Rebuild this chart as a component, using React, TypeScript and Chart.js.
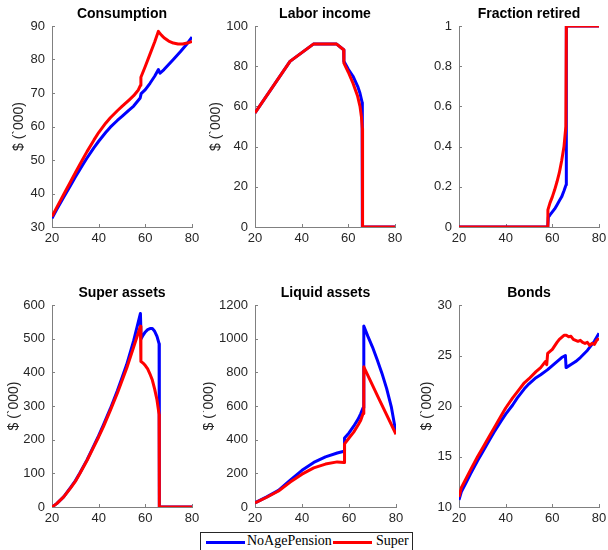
import React, { useEffect, useRef } from "react";
import { Chart, registerables } from "chart.js";

Chart.register(...registerables);

const BLUE = "#0000ff";
const RED = "#ff0000";
const AXIS = "#808080";
const TEXT = "#262626";
const SANS = "'Liberation Sans', Arial, sans-serif";
const SERIF = "'Liberation Serif', 'Times New Roman', serif";

const SERIES_NAMES = ["NoAgePension", "Super"];
const Y_LABEL = "$ (`000)";

// ---- Consumption ----
const consAgeB = [20, 22, 25, 28, 30, 33, 35, 38, 40, 43, 45, 48, 50, 53, 55, 57.8, 58.2, 60, 62, 64, 65.6, 66.3, 68, 70, 72, 75, 78, 80];
const consB = [32.6, 35.2, 38.9, 42.5, 44.9, 48.4, 50.6, 53.7, 55.6, 58.2, 59.8, 61.8, 63, 64.9, 66.1, 68.5, 69.8, 71, 72.9, 75, 77, 75.9, 77, 78.5, 80, 82.3, 84.8, 86.7];
const consAgeR = [20, 22, 25, 28, 30, 33, 35, 38, 40, 43, 45, 48, 50, 53, 55, 57, 57.9, 58.1, 60, 62, 64, 65.6, 66, 67, 68, 70, 72, 74, 76, 78, 80];
const consR = [33.1, 35.8, 39.7, 43.6, 46.2, 50, 52.5, 56, 58.2, 61, 62.6, 64.7, 66, 67.9, 69.2, 70.9, 72.3, 74.7, 78, 81.6, 85.2, 88.4, 88, 87.2, 86.5, 85.5, 84.9, 84.6, 84.6, 84.9, 85.4];

// ---- Labor income ----
const laborAgeB = [20, 35, 45, 55, 58, 58.1, 60, 62, 64, 65, 65.9, 66, 80];
const laborB = [56.7, 82.4, 91, 91, 88.2, 82.5, 78.5, 75, 70, 66.5, 62, 0, 0];
const laborAgeR = [20, 35, 45, 55, 58, 58.1, 60, 62, 64, 65, 65.6, 66, 66.1, 80];
const laborR = [56.7, 82.4, 91, 91, 88.2, 81.5, 77, 71.5, 65, 60, 55, 49, 0, 0];

// ---- Fraction retired ----
const retAgeB = [20, 58, 58.3, 59, 60, 61, 62, 63, 64, 65, 65.9, 66, 80];
const retB = [0, 0, 0.05, 0.06, 0.075, 0.09, 0.11, 0.13, 0.15, 0.18, 0.21, 1, 1];
const retAgeR = [20, 58, 58.1, 59, 60, 61, 62, 63, 64, 65, 65.8, 66, 80];
const retR = [0, 0, 0.085, 0.12, 0.15, 0.185, 0.225, 0.27, 0.33, 0.4, 0.5, 1, 1];

// ---- Super assets ----
const superAgeB = [20, 22, 25, 28, 30, 32, 35, 38, 40, 42, 45, 48, 50, 52, 55, 57.9, 58.2, 59, 60, 61, 62, 63, 64, 65, 65.9, 66, 80];
const superB = [0, 10, 30, 58, 78, 102, 140, 183, 212, 243, 292, 345, 384, 423, 494, 575, 500, 510, 520, 527, 530, 530, 522, 507, 485, 0, 0];
const superAgeR = [20, 22, 25, 28, 30, 32, 35, 38, 40, 42, 45, 48, 50, 52, 55, 57.9, 58.1, 59, 60, 61, 62, 63, 64, 65, 65.9, 66, 80];
const superR = [0, 10, 30, 57, 76, 100, 138, 180, 208, 238, 287, 338, 375, 412, 475, 537, 432, 428, 420, 410, 395, 377, 350, 318, 275, 0, 0];

// ---- Liquid assets ----
const liqAgeB = [20, 25, 30, 35, 40, 45, 50, 55, 57.9, 58.1, 60, 62, 64, 65, 66, 66.3, 68, 70, 72, 74, 76, 78, 80];
const liqB = [25, 60, 99, 160, 218, 265, 298, 321, 331, 410, 440, 480, 525, 555, 590, 1075, 1015, 950, 875, 795, 705, 595, 440];
const liqAgeR = [20, 25, 30, 35, 40, 45, 50, 55, 57.9, 58.1, 60, 62, 64, 65, 66, 66.3, 73, 80];
const liqR = [25, 58, 95, 148, 195, 232, 255, 268, 265, 375, 410, 445, 490, 515, 555, 833, 635, 432];

// ---- Bonds ----
const bondAgeB = [20, 21, 23, 25, 28, 30, 33, 35, 38, 40, 43, 45, 48, 50, 53, 55, 58, 60, 62, 64, 65.6, 65.9, 68, 70, 72, 75, 78, 80];
const bondB = [10.7, 11.5, 12.4, 13.3, 14.6, 15.4, 16.6, 17.4, 18.5, 19.2, 20.1, 20.8, 21.7, 22.2, 22.8, 23.1, 23.6, 24.0, 24.4, 24.8, 25.0, 23.8, 24.1, 24.4, 24.8, 25.5, 26.4, 27.2];
const bondAgeR = [20, 21, 23, 25, 28, 30, 33, 35, 38, 40, 43, 45, 48, 50, 53, 55, 57, 57.6, 58, 60, 62, 63, 64, 65, 66, 67, 68, 69, 70, 71, 72, 73, 74, 75, 76, 77, 78, 79, 80];
const bondR = [11.0, 11.9, 12.8, 13.7, 15.0, 15.8, 17.0, 17.8, 19.0, 19.8, 20.8, 21.4, 22.3, 22.7, 23.4, 23.8, 24.4, 24.1, 25.2, 25.6, 26.3, 26.6, 26.8, 27.0, 27.0, 26.85, 26.9, 26.6, 26.5, 26.4, 26.5, 26.3, 26.2, 26.3, 26.0, 26.2, 26.1, 26.5, 26.7];

const X_MIN = 20;
const X_MAX = 80;
const X_STEP = 20;

const zip = (xs: number[], ys: number[]) => xs.map((x, i) => ({ x, y: ys[i] }));
const fmt = (v: number | string) => String(Math.round(Number(v) * 1000) / 1000);

const innerTicks = {
  id: "innerTicks",
  beforeDatasetsDraw(chart: any) {
    const { ctx, chartArea, scales } = chart;
    ctx.save();
    ctx.strokeStyle = AXIS;
    ctx.lineWidth = 1;
    ctx.beginPath();
    scales.x.ticks.forEach((t: any) => {
      const x = Math.round(scales.x.getPixelForValue(t.value)) + 0.5;
      ctx.moveTo(x, chartArea.bottom);
      ctx.lineTo(x, chartArea.bottom - 3);
    });
    scales.y.ticks.forEach((t: any) => {
      const y = Math.round(scales.y.getPixelForValue(t.value)) + 0.5;
      ctx.moveTo(chartArea.left, y);
      ctx.lineTo(chartArea.left + 3, y);
    });
    ctx.stroke();
    ctx.restore();
  },
};

type PanelProps = {
  title: string;
  xb: number[];
  yb: number[];
  xr: number[];
  yr: number[];
  yMin: number;
  yMax: number;
  yStep: number;
  yLabel: boolean;
  yLabelOffset: number;
  left: number;
  top: number;
  w: number;
  h: number;
};

const LM = 52;
const TM = 26;
const RM = 12;
const BM = 24;

function Panel(p: PanelProps) {
  const ref = useRef<HTMLCanvasElement>(null);
  const cw = p.w + LM + RM;
  const ch = p.h + TM + BM;
  useEffect(() => {
    const ds = (name: string, data: any, color: string, order: number) => ({
      label: name,
      data,
      borderColor: color,
      backgroundColor: color,
      borderWidth: 3,
      pointRadius: 0,
      tension: 0,
      fill: false,
      order,
      borderJoinStyle: "round" as const,
    });
    const chart = new Chart(ref.current as HTMLCanvasElement, {
      type: "line",
      data: {
        datasets: [
          ds(SERIES_NAMES[0], zip(p.xb, p.yb), BLUE, 1),
          ds(SERIES_NAMES[1], zip(p.xr, p.yr), RED, 0),
        ],
      },
      options: {
        animation: false,
        responsive: false,
        events: [],
        layout: { padding: { left: 0, right: RM, top: 0, bottom: 0 } },
        plugins: {
          legend: { display: false },
          tooltip: { enabled: false },
          title: {
            display: true,
            text: p.title,
            fullSize: false,
            color: "#000",
            font: { family: SANS, size: 14, weight: "bold", lineHeight: 1.2 },
            padding: { top: 6, bottom: 3.2 },
          },
        },
        scales: {
          x: {
            type: "linear",
            min: X_MIN,
            max: X_MAX,
            ticks: {
              stepSize: X_STEP,
              color: TEXT,
              font: { family: SANS, size: 13 },
              padding: 4,
              maxRotation: 0,
              autoSkip: false,
              callback: (v: any) => fmt(v),
            },
            grid: { display: true, drawOnChartArea: false, drawTicks: false, color: AXIS },
            border: { display: true, color: AXIS, width: 1 },
            afterFit: (s: any) => {
              s.height = BM;
              s.paddingLeft = 0;
              s.paddingRight = 0;
            },
          },
          y: {
            type: "linear",
            min: p.yMin,
            max: p.yMax,
            ticks: {
              stepSize: p.yStep,
              color: TEXT,
              font: { family: SANS, size: 13 },
              padding: 7,
              autoSkip: false,
              callback: (v: any) => fmt(v),
            },
            grid: { display: true, drawOnChartArea: false, drawTicks: false, color: AXIS },
            border: { display: true, color: AXIS, width: 1 },
            title: {
              display: p.yLabel,
              text: Y_LABEL,
              color: TEXT,
              font: { family: SANS, size: 14, lineHeight: 1 },
              padding: { top: p.yLabelOffset - 7, bottom: 0 },
            },
            afterFit: (s: any) => {
              s.width = LM;
              s.paddingTop = 0;
              s.paddingBottom = 0;
            },
          },
        },
      } as any,
      plugins: [innerTicks],
    });
    return () => chart.destroy();
  }, []);
  return (
    <canvas
      ref={ref}
      width={cw}
      height={ch}
      style={{ position: "absolute", left: p.left - LM, top: p.top - TM, width: cw, height: ch }}
    />
  );
}

export default function App() {
  return (
    <div
      style={{
        position: "fixed",
        left: 0,
        top: 0,
        width: 608,
        height: 550,
        overflow: "hidden",
        background: "#fff",
      }}
    >
      <Panel title="Consumption" xb={consAgeB} yb={consB} xr={consAgeR} yr={consR} yMin={30} yMax={90} yStep={10} yLabel yLabelOffset={19} left={52} top={26} w={140} h={201} />
      <Panel title="Labor income" xb={laborAgeB} yb={laborB} xr={laborAgeR} yr={laborR} yMin={0} yMax={100} yStep={20} yLabel yLabelOffset={13} left={255} top={26} w={140} h={201} />
      <Panel title="Fraction retired" xb={retAgeB} yb={retB} xr={retAgeR} yr={retR} yMin={0} yMax={1} yStep={0.2} yLabel={false} yLabelOffset={0} left={459} top={26} w={140} h={201} />
      <Panel title="Super assets" xb={superAgeB} yb={superB} xr={superAgeR} yr={superR} yMin={0} yMax={600} yStep={100} yLabel yLabelOffset={14} left={52} top={305} w={140} h={202} />
      <Panel title="Liquid assets" xb={liqAgeB} yb={liqB} xr={liqAgeR} yr={liqR} yMin={0} yMax={1200} yStep={200} yLabel yLabelOffset={6} left={255} top={305} w={141} h={202} />
      <Panel title="Bonds" xb={bondAgeB} yb={bondB} xr={bondAgeR} yr={bondR} yMin={10} yMax={30} yStep={5} yLabel yLabelOffset={20} left={459} top={305} w={140} h={202} />
      <div
        style={{
          position: "absolute",
          left: 200,
          top: 532,
          width: 211,
          height: 40,
          borderTop: "1px solid #262626",
          borderLeft: "1px solid #262626",
          borderRight: "1px solid #262626",
          borderBottom: "none",
          background: "#fff",
          fontFamily: SERIF,
          fontSize: 14,
          lineHeight: "14px",
          color: "#000",
        }}
      >
        <div style={{ position: "absolute", left: 5, top: 8, width: 39, height: 3, background: BLUE }} />
        <span style={{ position: "absolute", left: 46, top: 1, whiteSpace: "nowrap" }}>{SERIES_NAMES[0]}</span>
        <div style={{ position: "absolute", left: 132, top: 8, width: 39, height: 3, background: RED }} />
        <span style={{ position: "absolute", left: 175, top: 1, whiteSpace: "nowrap" }}>{SERIES_NAMES[1]}</span>
      </div>
    </div>
  );
}
